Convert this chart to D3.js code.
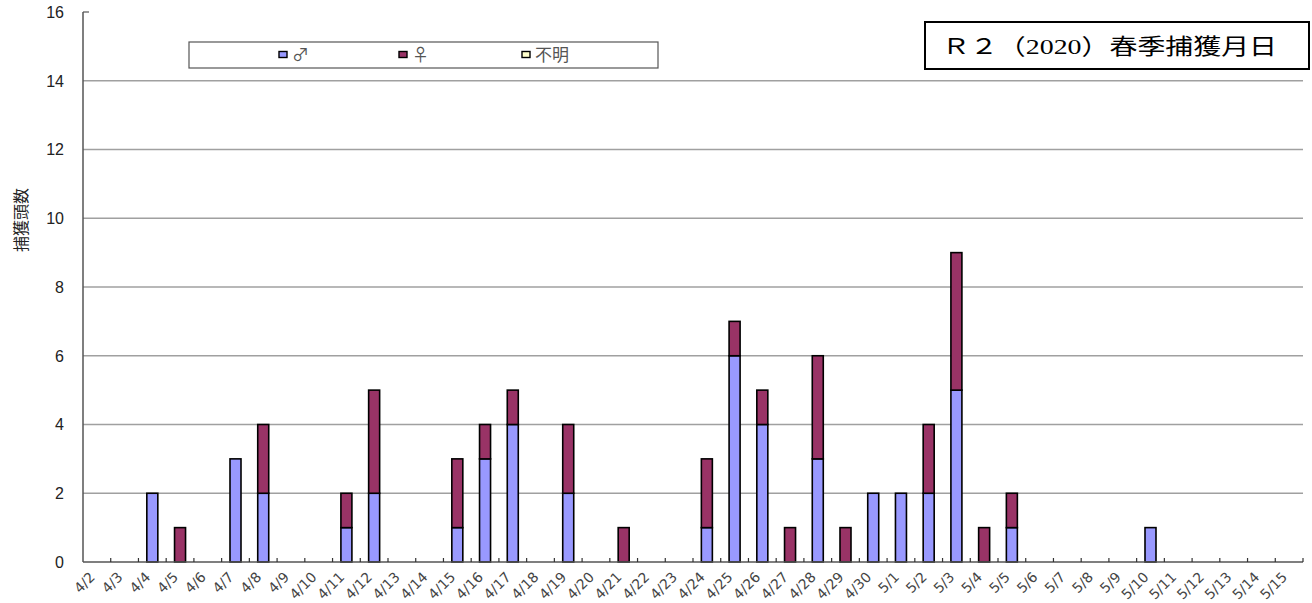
<!DOCTYPE html>
<html><head><meta charset="utf-8">
<script src="https://cdn.jsdelivr.net/npm/d3@7"></script>
<style>
html,body{margin:0;padding:0;background:#fff;}
svg{display:block;}
</style>
</head><body>
<svg id="chart" width="1312" height="603"></svg>
<script>
const categories = ["4/2","4/3","4/4","4/5","4/6","4/7","4/8","4/9","4/10","4/11","4/12","4/13","4/14","4/15","4/16","4/17","4/18","4/19","4/20","4/21","4/22","4/23","4/24","4/25","4/26","4/27","4/28","4/29","4/30","5/1","5/2","5/3","5/4","5/5","5/6","5/7","5/8","5/9","5/10","5/11","5/12","5/13","5/14","5/15"];
const male   = [0,0,2,0,0,3,2,0,0,1,2,0,0,1,3,4,0,2,0,0,0,0,1,6,4,0,3,0,2,2,2,5,0,1,0,0,0,0,1,0,0,0,0,0];
const female = [0,0,0,1,0,0,2,0,0,1,3,0,0,2,1,1,0,2,0,1,0,0,2,1,1,1,3,1,0,0,2,4,1,1,0,0,0,0,0,0,0,0,0,0];
const unknown= [0,0,0,0,0,0,0,0,0,0,0,0,0,0,0,0,0,0,0,0,0,0,0,0,0,0,0,0,0,0,0,0,0,0,0,0,0,0,0,0,0,0,0,0];
const seriesNames = ["♂","♀","不明"];
const seriesColors = ["#9999ff","#993366","#ffffcc"];
const yTicks = [0,2,4,6,8,10,12,14,16];
const titleText = "Ｒ２（2020）春季捕獲月日";
const yLabel = "捕獲頭数";

(function(){
const svg = d3.select("#chart");
const pL = 83, pR = 1303, pT = 12, pB = 562;

const x = d3.scaleBand().domain(categories).range([pL, pR]).paddingInner(0).paddingOuter(0);
const y = d3.scaleLinear().domain([0,16]).range([pB, pT]);

// gridlines
svg.append("g").selectAll("line").data(yTicks.filter(d => d > 0 && d < 16)).join("line")
  .attr("x1", pL).attr("x2", pR)
  .attr("y1", d => y(d)).attr("y2", d => y(d))
  .attr("stroke", "#a0a0a0").attr("stroke-width", 1.5);

// y tick at top
svg.append("line").attr("x1", pL).attr("x2", pL + 6).attr("y1", y(16)).attr("y2", y(16))
  .attr("stroke", "#555").attr("stroke-width", 1.2);

// y tick labels
svg.append("g").selectAll("text").data(yTicks).join("text")
  .attr("x", 64).attr("y", d => y(d)).attr("dy", "0.36em")
  .attr("text-anchor", "end")
  .attr("font-family", "Liberation Sans, Arial, sans-serif")
  .attr("font-size", 16).attr("fill", "#222")
  .text(d => d);

// stacked data
const rows = categories.map((c, i) => ({cat: c, m: male[i], f: female[i], u: unknown[i]}));
const stack = d3.stack().keys(["m","f","u"])(rows);

const bw = 11;
stack.forEach((layer, si) => {
  svg.append("g").selectAll("rect").data(layer.filter(d => d[1] - d[0] > 0)).join("rect")
    .attr("x", d => x(d.data.cat) + x.bandwidth()/2 - bw/2)
    .attr("y", d => y(d[1]))
    .attr("width", bw)
    .attr("height", d => y(d[0]) - y(d[1]))
    .attr("fill", seriesColors[si])
    .attr("stroke", "#000").attr("stroke-width", 1.6);
});

// axes lines
svg.append("line").attr("x1", pL).attr("x2", pL).attr("y1", pT).attr("y2", pB)
  .attr("stroke", "#555").attr("stroke-width", 1.5);
svg.append("line").attr("x1", pL).attr("x2", pR).attr("y1", pB).attr("y2", pB)
  .attr("stroke", "#555").attr("stroke-width", 1.5);

// x ticks (category boundaries, inward)
const bounds = categories.map(c => x(c)).concat([pR]);
svg.append("g").selectAll("line").data(bounds.slice(1)).join("line")
  .attr("x1", d => d).attr("x2", d => d)
  .attr("y1", pB).attr("y2", pB - 4)
  .attr("stroke", "#333").attr("stroke-width", 1.2);

// x labels
svg.append("g").selectAll("text").data(categories).join("text")
  .attr("transform", d => `translate(${x(d) + x.bandwidth()/2 - 1},${pB + 16}) rotate(-45)`)
  .attr("text-anchor", "end")
  .attr("font-family", "DejaVu Sans, Verdana, sans-serif")
  .attr("font-size", 14).attr("fill", "#444")
  .text(d => d);

// y axis label
svg.append("text")
  .attr("transform", `translate(21,220) rotate(-90)`)
  .attr("text-anchor", "middle")
  .attr("dy", "0.35em")
  .attr("font-family", "Noto Sans CJK JP, sans-serif")
  .attr("font-size", 16).attr("fill", "#222")
  .text(yLabel);

// legend
const lg = svg.append("g");
lg.append("rect").attr("x", 189).attr("y", 42).attr("width", 469).attr("height", 26)
  .attr("fill", "#fff").attr("stroke", "#555").attr("stroke-width", 1.2);
const legX = [279, 399, 522];
seriesNames.forEach((n, i) => {
  lg.append("rect").attr("x", legX[i]).attr("y", 51.5).attr("width", 8).attr("height", 6)
    .attr("fill", seriesColors[i]).attr("stroke", "#000").attr("stroke-width", 1.4);
  lg.append("text").attr("x", legX[i] + 13).attr("y", 55).attr("dy", "0.35em")
    .attr("font-family", "Noto Sans CJK JP, DejaVu Sans, sans-serif")
    .attr("font-size", 17).attr("fill", "#555").text(n);
});

// title box
const tg = svg.append("g");
tg.append("rect").attr("x", 925).attr("y", 22).attr("width", 384).attr("height", 47)
  .attr("fill", "#fff").attr("stroke", "#000").attr("stroke-width", 2);
tg.append("text").attr("x", 942).attr("y", 46).attr("dy", "0.35em")
  .attr("font-family", "Liberation Serif, DejaVu Serif, Noto Sans CJK JP, serif")
  .attr("font-size", 22).attr("fill", "#000")
  .attr("textLength", 335).attr("lengthAdjust", "spacingAndGlyphs")
  .text(titleText);
})();
</script>
</body></html>
